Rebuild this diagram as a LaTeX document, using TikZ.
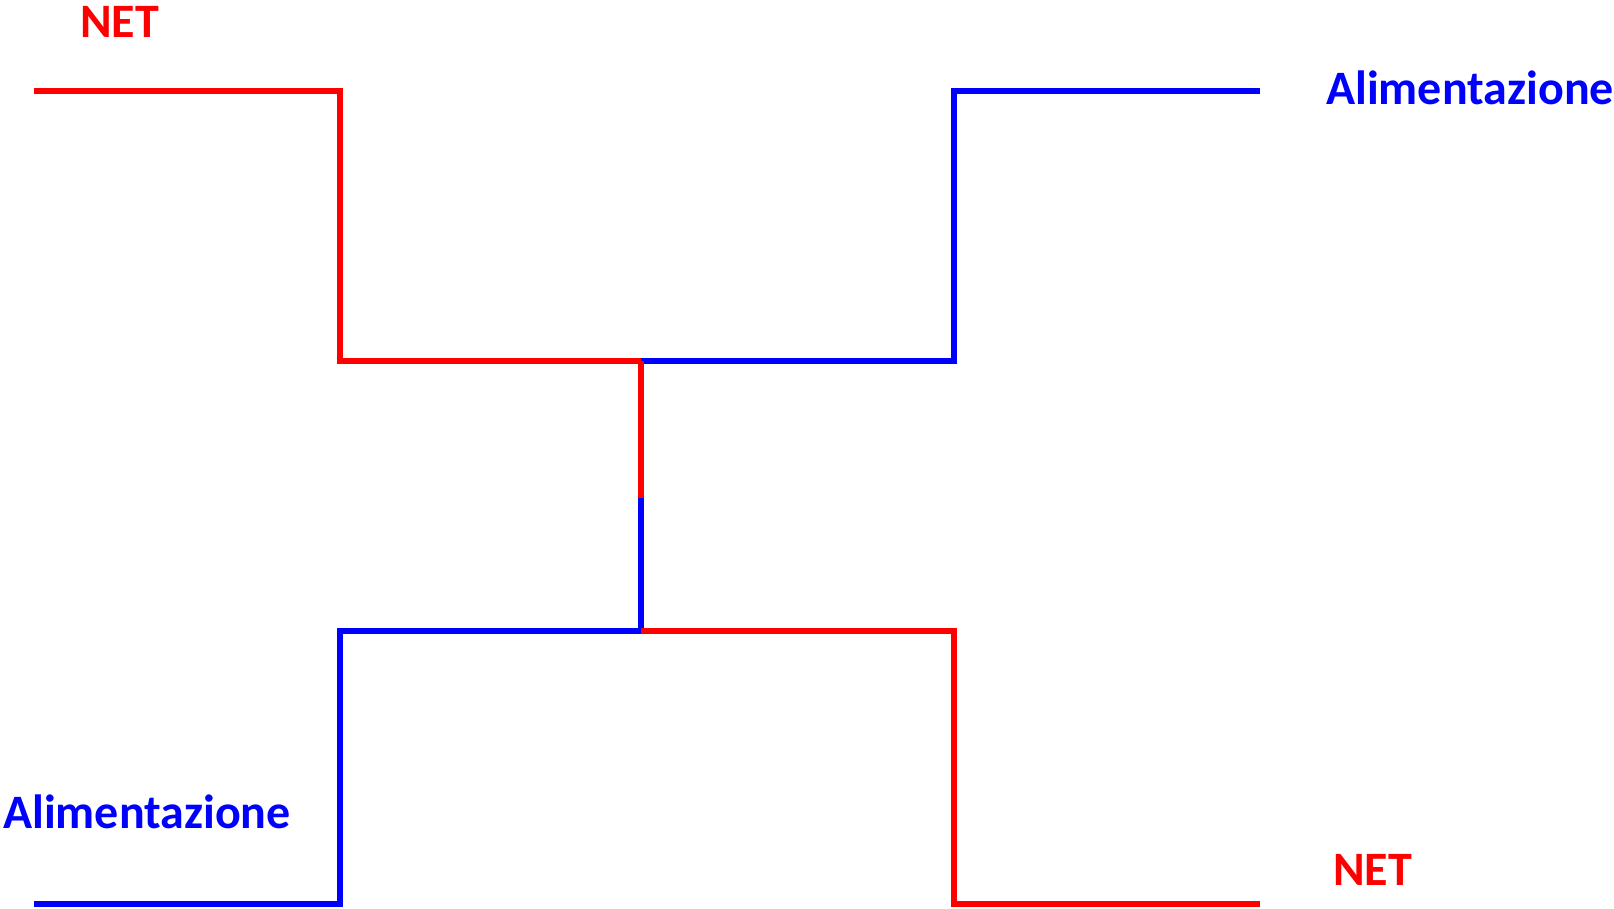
\documentclass[tikz,border=0pt]{standalone}
\usepackage{fontspec}
\setmainfont{Carlito}
\begin{document}
\begin{tikzpicture}[x=1pt,y=-1pt,
  wire/.style={line width=6pt,line join=miter},
  redwire/.style={wire,draw={rgb,255:red,255;green,0;blue,0}},
  bluewire/.style={wire,draw={rgb,255:red,0;green,0;blue,255}},
  shadowwire/.style={wire,draw=black,opacity=0.10},
  lbl/.style={inner sep=0pt,anchor=base west,font=\bfseries\fontsize{48}{58}\selectfont}]
\useasboundingbox (0,0) rectangle (1614,909);
% coordinates
\coordinate (a1) at (34,91);
\coordinate (a2) at (340,91);
\coordinate (a3) at (340,361);
\coordinate (c)  at (641,361);
\coordinate (b3) at (954,361);
\coordinate (b2) at (954,91);
\coordinate (b1) at (1260,91);
\coordinate (m)  at (641,498);
\coordinate (d)  at (641,631);
\coordinate (e3) at (340,631);
\coordinate (e2) at (340,904);
\coordinate (e1) at (34,904);
\coordinate (f3) at (954,631);
\coordinate (f2) at (954,904);
\coordinate (f1) at (1260,904);
% shadows
\begin{scope}[shift={(2,3)}]
\draw[shadowwire] (a1) -- (a2) -- (a3) -- (b3) -- (b2) -- (b1);
\draw[shadowwire] (c) -- (d);
\draw[shadowwire] (e1) -- (e2) -- (e3) -- (f3) -- (f2) -- (f1);
\end{scope}
% wires
\draw[redwire] (a1) -- (a2) -- (a3) -- (c);
\draw[bluewire] (c) -- (b3) -- (b2) -- (b1);
\draw[redwire] (c) -- (m);
\draw[bluewire] (m) -- (d);
\draw[bluewire] (d) -- (e3) -- (e2) -- (e1);
\draw[redwire] (d) -- (f3) -- (f2) -- (f1);
% labels
\node[lbl,text={rgb,255:red,255;green,0;blue,0}] (netA) at (80,38) {NET};
\node[lbl,text={rgb,255:red,0;green,0;blue,255}] (alimA) at (1326,105) {Alimentazione};
\node[lbl,text={rgb,255:red,0;green,0;blue,255}] (alimB) at (3,828) {Alimentazione};
\node[lbl,text={rgb,255:red,255;green,0;blue,0}] (netB) at (1333,885) {NET};
\end{tikzpicture}
\end{document}
